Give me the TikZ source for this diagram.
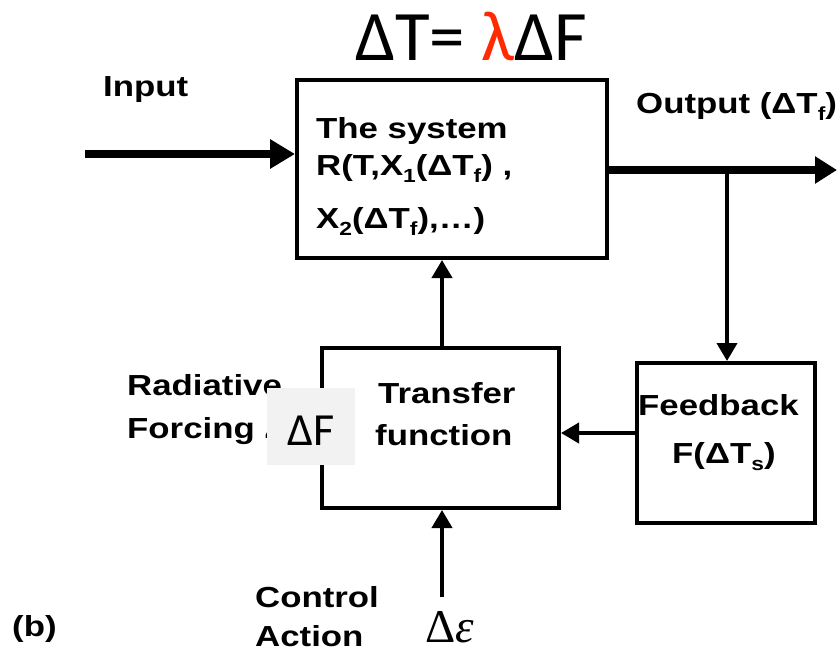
\documentclass[tikz,border=0pt]{standalone}
\usepackage{fontspec}
\usetikzlibrary{arrows.meta}
\newfontfamily\lab[FakeStretch=1.2]{Liberation Sans}
\newfontfamily\carl{Carlito}
\newfontfamily\tms{Liberation Serif}
\newcommand\lsub[1]{\raisebox{-0.26em}{\fontsize{19}{19}\selectfont #1}}
\definecolor{lamred}{HTML}{FF2A00}
\definecolor{greybox}{HTML}{F2F2F2}
\tikzset{
  blk/.style={draw=black, line width=4pt, rectangle, inner sep=0pt},
  lbl/.style={font=\lab\bfseries\fontsize{29}{32}\selectfont, anchor=base west, inner sep=0pt},
  thick arrow/.style={line width=8pt, -{Triangle[width=28pt,length=25pt]}},
  thin arrow/.style={line width=4pt, -{Triangle[width=20pt,length=18pt]}},
}
\begin{document}
\begin{tikzpicture}[x=1pt,y=-1pt]
\useasboundingbox (0,0) rectangle (838,654);
% boxes
\node[blk, minimum width=310pt, minimum height=178pt] (sys) at (452,169) {};
\node[blk, minimum width=237pt, minimum height=160pt] (tf) at (440.5,428) {};
\node[blk, minimum width=178pt, minimum height=160pt] (fb) at (726,443) {};
% title
\node[anchor=base west, inner sep=0pt, font=\carl\fontsize{71}{71}\selectfont] (title) at (355,60) {ΔT= \textcolor{lamred}{λ}ΔF};
% labels
\node[lbl] (input) at (103,96) {Input};
\node[lbl] (output) at (636,113) {Output (ΔT\lsub{f})};
\node[lbl] (s1) at (316,138) {The system};
\node[lbl] (s2) at (316,175) {R(T,X\lsub{1}(ΔT\lsub{f}) ,};
\node[lbl] (s3) at (316,228) {X\lsub{2}(ΔT\lsub{f}),…)};
\node[lbl] (t1) at (378,403) {Transfer};
\node[lbl] (t2) at (375,445) {function};
\node[lbl] (f1) at (638,415) {Feedback};
\node[lbl] (f2) at (672,463) {F(ΔT\lsub{s})};
\node[lbl] (r1) at (127,395) {Radiative};
\node[lbl] (r2) at (127,438) {Forcing Δ};
\node[lbl] (c1) at (255,607) {Control};
\node[lbl] (c2) at (255,646) {Action};
\node[lbl] (b) at (12,636) {(b)};
\node[anchor=base west, inner sep=0pt, font=\tms\fontsize{47}{47}\selectfont] (de) at (425,642) {Δ\textit{ε}};
% grey patch with Delta F
\node[fill=greybox, minimum width=88pt, minimum height=77pt, inner sep=0pt] (patch) at (311,426.5) {};
\node[anchor=base west, inner sep=0pt, font=\carl\fontsize{46}{46}\selectfont] (df) at (287,445) {ΔF};
% connectors
\coordinate (in) at (85,154);
\coordinate (outend) at (837,170);
\coordinate (br) at (727,170);
\coordinate (fbout) at (637,433);
\coordinate (ca) at (442,597);
\draw[thick arrow] (in) -- (in -| sys.west);
\draw[line width=8pt, -{Triangle[width=26pt,length=22pt]}] (sys.east |- outend) -- (outend);
\draw[thin arrow] (br) -- (br |- fb.north);
\draw[thin arrow] (fbout) -- (fbout -| tf.east);
\draw[thin arrow] (tf.north -| ca) -- (sys.south -| ca);
\draw[thin arrow] (ca) -- (ca |- tf.south);
\end{tikzpicture}
\end{document}
